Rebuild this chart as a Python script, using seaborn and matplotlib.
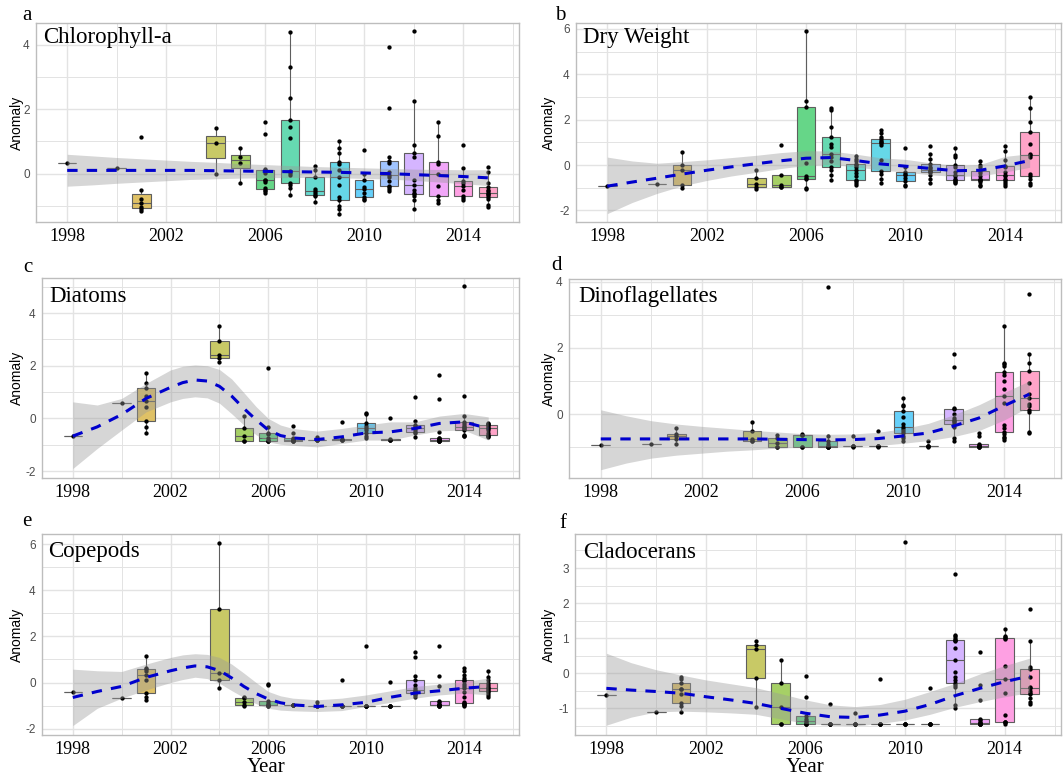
import matplotlib
matplotlib.use("Agg")
import matplotlib.pyplot as plt
from matplotlib.colors import to_rgb
import numpy as np
import pandas as pd
import seaborn as sns

# ---------------------------------------------------------------- data
YEARS = [1998, 2000, 2001, 2004, 2005, 2006, 2007, 2008, 2009, 2010,
         2011, 2012, 2013, 2014, 2015]
HUES = ["#F8766D", "#E58700", "#C99800", "#A3A500", "#6BB100", "#00BA38",
        "#00BF7D", "#00C0AF", "#00BCD8", "#00B0F6", "#619CFF", "#B983FF",
        "#E76BF3", "#FD61D1", "#FF67A4"]

CHLA = {
    1998: [0.33],
    2000: [0.16],
    2001: [-1.16, -1.09, -1.05, -0.90, -0.78, -0.50, 1.12],
    2004: [0.00, 0.95, 1.40],
    2005: [-0.30, 0.33, 0.52, 0.80],
    2006: [-0.60, -0.55, -0.50, -0.45, -0.26, -0.21, -0.20, 0.02, 0.12, 0.15, 1.22, 1.60],
    2007: [-0.67, -0.45, -0.35, -0.29, -0.03, 0.02, 0.07, 1.10, 1.44, 1.65, 2.36, 3.32, 4.39],
    2008: [-0.88, -0.70, -0.67, -0.60, -0.54, -0.47, -0.12, 0.12, 0.24],
    2009: [-1.24, -1.09, -0.99, -0.81, -0.72, -0.36, -0.10, 0.12, 0.31, 0.37, 0.65, 0.80, 1.01],
    2010: [-0.83, -0.78, -0.74, -0.60, -0.49, -0.41, -0.21, 0.00, 0.72],
    2011: [-0.54, -0.48, -0.41, -0.39, -0.23, -0.10, -0.05, 0.05, 0.33, 0.39, 0.52, 2.05, 3.93],
    2012: [-1.11, -0.83, -0.70, -0.62, -0.60, -0.52, -0.34, -0.21, 0.50, 0.65, 0.90, 2.25, 4.42],
    2013: [-0.90, -0.81, -0.69, -0.39, 0.00, 0.31, 0.37, 1.16, 1.60],
    2014: [-0.81, -0.75, -0.69, -0.52, -0.39, -0.30, -0.23, 0.16, 0.89],
    2015: [-1.05, -0.98, -0.80, -0.72, -0.66, -0.62, -0.59, -0.55, -0.52, -0.41, -0.29, 0.05, 0.21],
}

DRY_WEIGHT = {
    1998: [-0.94],
    2000: [-0.84],
    2001: [-1.01, -0.87, -0.23, 0.00, 0.57],
    2004: [-1.04, -0.97, -0.84, -0.57, -0.23],
    2005: [-0.98, -0.97, -0.90, -0.43, 0.90],
    2006: [-1.04, -1.00, -0.60, -0.55, -0.48, 0.09, 2.58, 2.82, 5.90],
    2007: [-0.68, -0.46, -0.20, -0.09, 0.20, 0.35, 0.47, 0.80, 0.94, 1.22, 1.66, 2.41, 2.53],
    2008: [-0.87, -0.79, -0.72, -0.65, -0.50, -0.35, -0.21, -0.10, 0.00, 0.04, 0.20, 0.28, 0.38],
    2009: [-0.79, -0.63, -0.40, -0.25, 0.21, 0.90, 0.97, 1.00, 1.05, 1.15, 1.23, 1.40, 1.53],
    2010: [-0.94, -0.87, -0.72, -0.55, -0.44, -0.38, -0.31, -0.09, 0.75],
    2011: [-0.79, -0.60, -0.45, -0.32, -0.30, -0.25, -0.23, -0.15, -0.09, 0.06, 0.28, 0.50, 0.84],
    2012: [-0.79, -0.75, -0.70, -0.68, -0.60, -0.50, -0.43, -0.30, -0.10, 0.01, 0.35, 0.43, 0.75],
    2013: [-0.94, -0.87, -0.75, -0.68, -0.66, -0.65, -0.63, -0.50, -0.35, -0.26, -0.10, 0.00, 0.16],
    2014: [-0.91, -0.85, -0.75, -0.68, -0.60, -0.50, -0.46, -0.30, -0.10, -0.03, 0.21, 0.60, 0.84],
    2015: [-0.90, -0.79, -0.60, -0.48, -0.38, 0.35, 0.46, 0.50, 0.94, 1.47, 1.89, 2.50, 3.00],
}

DIATOMS = {
    1998: [-0.67],
    2000: [0.57],
    2001: [-0.57, -0.32, -0.10, 0.43, 0.66, 0.85, 1.17, 1.33, 1.74],
    2004: [2.16, 2.28, 2.41, 2.94, 3.49],
    2005: [-0.85, -0.84, -0.67, -0.36, 0.09],
    2006: [-0.85, -0.84, -0.84, -0.80, -0.74, -0.60, -0.55, -0.34, 1.93],
    2007: [-0.85, -0.84, -0.84, -0.82, -0.80, -0.78, -0.75, -0.55, -0.29],
    2008: [-0.82, -0.81, -0.80, -0.80, -0.70],
    2009: [-0.81, -0.80, -0.80, -0.79, -0.15],
    2010: [-0.74, -0.65, -0.57, -0.45, -0.38, -0.28, -0.19, 0.15, 0.19],
    2011: [-0.81, -0.80, -0.80, -0.79, 0.00],
    2012: [-0.70, -0.57, -0.51, -0.45, -0.36, -0.30, -0.23, -0.08, 0.82],
    2013: [-0.86, -0.85, -0.84, -0.84, -0.83, -0.82, -0.80, -0.78, -0.76, -0.74, -0.51, 0.74, 1.65],
    2014: [-0.66, -0.65, -0.63, -0.44, -0.40, -0.36, -0.32, -0.28, -0.20, -0.13, 0.10, 0.86, 5.01],
    2015: [-0.70, -0.68, -0.66, -0.63, -0.55, -0.45, -0.38, -0.35, -0.30, -0.25, -0.22, -0.20, -0.18],
}

DINOFLAGELLATES = {
    1998: [-0.94],
    2000: [-0.90],
    2001: [-0.90, -0.74, -0.67, -0.60, -0.42],
    2004: [-0.82, -0.80, -0.74, -0.50, -0.24],
    2005: [-1.00, -1.00, -0.87, -0.72, -0.64],
    2006: [-1.00, -1.00, -0.62, -0.62, -0.60],
    2007: [-1.00, -1.00, -1.00, -0.98, -0.97, -0.90, -0.82, -0.67, 3.84],
    2008: [-0.98, -0.97, -0.97, -0.97, -0.67],
    2009: [-0.98, -0.97, -0.97, -0.97, -0.50],
    2010: [-0.80, -0.72, -0.65, -0.57, -0.52, -0.45, -0.40, -0.30, -0.10, 0.08, 0.25, 0.28, 0.50],
    2011: [-0.98, -0.97, -0.97, -0.97, -0.82],
    2012: [-0.82, -0.72, -0.40, -0.30, -0.25, -0.20, -0.17, -0.12, 0.00, 0.15, 0.18, 1.41, 1.81],
    2013: [-1.00, -1.00, -1.00, -0.97, -0.95, -0.92, -0.90, -0.67, -0.57],
    2014: [-0.77, -0.72, -0.70, -0.60, -0.54, -0.42, -0.32, 0.33, 0.54, 0.75, 1.00, 1.19,
           1.27, 1.44, 1.50, 1.54, 2.66],
    2015: [-0.57, -0.55, 0.06, 0.11, 0.25, 0.30, 0.48, 0.60, 0.93, 1.29, 1.54, 1.81, 3.62],
}

COPEPODS = {
    1998: [-0.42],
    2000: [-0.68],
    2001: [-0.77, -0.65, -0.46, 0.10, 0.33, 0.48, 0.58, 0.65, 1.16],
    2004: [-0.22, 0.09, 0.41, 3.20, 6.06],
    2005: [-1.00, -0.97, -0.86, -0.68, -0.65],
    2006: [-1.00, -1.00, -0.99, -0.99, -0.98, -0.90, -0.80, -0.10, -0.07],
    2007: [-0.99, -0.98, -0.97, -0.97, -0.96],
    2008: [-1.01, -1.00, -1.00, -1.00, -0.83],
    2009: [-1.01, -1.00, -1.00, -1.00, 0.09],
    2010: [-1.01, -1.00, -1.00, -1.00, 1.59],
    2011: [-1.01, -1.00, -1.00, -1.00, 0.04],
    2012: [-0.64, -0.54, -0.50, -0.46, -0.42, -0.38, -0.32, -0.25, -0.10, 0.09, 0.30, 1.09, 1.32],
    2013: [-1.01, -1.00, -1.00, -0.99, -0.99, -0.98, -0.97, -0.95, -0.85, -0.80, -0.17, 0.30, 1.57],
    2014: [-1.00, -0.98, -0.95, -0.93, -0.91, -0.83, -0.65, -0.40, -0.25, -0.15, -0.05, 0.05,
           0.09, 0.20, 0.33, 0.51, 0.62],
    2015: [-0.61, -0.54, -0.45, -0.39, -0.35, -0.30, -0.25, -0.20, -0.10, 0.00, 0.12, 0.22, 0.48],
}

CLADOCERANS = {
    1998: [-0.62],
    2000: [-1.11],
    2001: [-1.11, -0.93, -0.84, -0.60, -0.46, -0.45, -0.29, -0.17, -0.10],
    2004: [-0.97, -0.14, 0.70, 0.81, 0.92],
    2005: [-1.45, -1.45, -0.97, -0.29, 0.38],
    2006: [-1.45, -1.45, -1.45, -1.40, -1.35, -1.30, -1.22, -0.67, -0.07],
    2007: [-1.45, -1.45, -1.45, -1.45, -0.89],
    2008: [-1.45, -1.45, -1.45, -1.45, -1.14],
    2009: [-1.45, -1.45, -1.45, -1.45, -0.17],
    2010: [-1.45, -1.45, -1.45, -1.45, 3.73],
    2011: [-1.45, -1.45, -1.45, -1.45, -0.41],
    2012: [-1.00, -0.90, -0.40, -0.33, -0.28, -0.20, -0.12, 0.05, 0.38, 0.73, 0.93, 0.95,
           0.96, 1.00, 1.05, 1.10, 2.84],
    2013: [-1.46, -1.45, -1.45, -1.45, -1.44, -1.43, -1.42, -1.38, -1.33, -1.29, -0.76, -0.33, 0.62],
    2014: [-1.45, -1.40, -1.39, -1.38, -1.19, -0.57, -0.17, 0.22, 0.98, 1.00, 1.02, 1.05, 1.26],
    2015: [-0.89, -0.81, -0.70, -0.59, -0.55, -0.50, -0.43, -0.40, -0.10, 0.11, 0.17, 0.92, 1.84],
}

# loess trend (fit with 95% band)
SMOOTH_YEARS = list(range(1998, 2016))
PEAK_YEARS = [1998, 1999, 2000, 2001, 2002, 2002.5, 2003, 2003.5, 2004, 2004.5, 2005,
              2005.5, 2006, 2006.5, 2007, 2008, 2009, 2010, 2011, 2012, 2013, 2014, 2015]

CHLA_FIT = [0.10, 0.10, 0.10, 0.10, 0.10, 0.10, 0.09, 0.08, 0.07, 0.06, 0.05, 0.04, 0.02, 0.00, -0.03, -0.06, -0.09, -0.13]
CHLA_LO = [-0.39, -0.35, -0.30, -0.26, -0.22, -0.18, -0.16, -0.14, -0.13, -0.12, -0.12, -0.13, -0.15, -0.17, -0.21, -0.26, -0.31, -0.37]
CHLA_HI = [0.60, 0.55, 0.50, 0.46, 0.42, 0.38, 0.35, 0.31, 0.28, 0.25, 0.22, 0.20, 0.18, 0.16, 0.14, 0.13, 0.12, 0.12]

DRY_FIT = [-0.93, -0.75, -0.58, -0.40, -0.23, -0.08, 0.06, 0.19, 0.30, 0.33, 0.20, 0.05, -0.05, -0.15, -0.25, -0.23, -0.04, 0.20]
DRY_LO = [-2.14, -1.65, -1.25, -0.92, -0.68, -0.48, -0.32, -0.15, -0.02, 0.03, -0.08, -0.22, -0.31, -0.43, -0.50, -0.48, -0.31, -0.10]
DRY_HI = [0.35, 0.18, 0.08, 0.15, 0.23, 0.33, 0.43, 0.55, 0.63, 0.62, 0.48, 0.32, 0.25, 0.10, -0.01, 0.02, 0.38, 0.50]

DIAT_FIT = [-0.67, -0.32, 0.15, 0.76, 1.18, 1.36, 1.46, 1.42, 1.22, 0.85, 0.38,
            -0.05, -0.44, -0.65, -0.74, -0.80, -0.70, -0.55, -0.51, -0.38, -0.19, -0.13, -0.38]
DIAT_LO = [-1.90, -1.14, -0.44, 0.25, 0.63, 0.76, 0.82, 0.78, 0.58, 0.18, -0.25,
           -0.62, -0.89, -0.98, -1.02, -1.08, -0.95, -0.82, -0.82, -0.63, -0.47, -0.44, -0.82]
DIAT_HI = [0.63, 0.51, 0.76, 1.33, 1.84, 1.98, 2.03, 2.00, 1.86, 1.50, 0.98,
           0.45, 0.00, -0.25, -0.38, -0.48, -0.38, -0.25, -0.13, -0.13, 0.09, 0.19, 0.06]

DINO_FIT = [-0.75, -0.75, -0.75, -0.75, -0.75, -0.75, -0.75, -0.76, -0.77, -0.78, -0.77, -0.74, -0.66, -0.57, -0.36, -0.12, 0.25, 0.60]
DINO_LO = [-1.68, -1.48, -1.33, -1.24, -1.18, -1.12, -1.08, -1.03, -1.00, -0.99, -0.98, -0.95, -0.88, -0.80, -0.68, -0.50, -0.18, 0.22]
DINO_HI = [0.13, -0.05, -0.20, -0.30, -0.37, -0.43, -0.49, -0.54, -0.59, -0.61, -0.60, -0.55, -0.44, -0.28, -0.02, 0.28, 0.65, 1.00]

COPE_FIT = [-0.65, -0.39, -0.17, 0.22, 0.51, 0.63, 0.72, 0.68, 0.52, 0.20, -0.17,
            -0.48, -0.72, -0.88, -0.97, -1.04, -0.97, -0.86, -0.64, -0.46, -0.36, -0.25, -0.17]
COPE_LO = [-1.87, -1.12, -0.68, -0.32, 0.00, 0.13, 0.23, 0.17, -0.03, -0.35, -0.65,
           -0.92, -1.12, -1.20, -1.23, -1.26, -1.22, -1.04, -0.86, -0.68, -0.54, -0.46, -0.54]
COPE_HI = [0.58, 0.51, 0.48, 0.80, 1.09, 1.20, 1.25, 1.22, 1.09, 0.80, 0.41,
           0.00, -0.39, -0.58, -0.68, -0.75, -0.68, -0.54, -0.36, -0.17, -0.07, 0.04, 0.19]

CLAD_FIT = [-0.43, -0.48, -0.52, -0.57, -0.67, -0.76, -0.86, -1.00, -1.14, -1.24, -1.26, -1.19, -1.08, -0.89, -0.64, -0.43, -0.24, -0.08]
CLAD_LO = [-1.48, -1.25, -1.10, -1.08, -1.10, -1.13, -1.17, -1.30, -1.43, -1.48, -1.50, -1.43, -1.33, -1.17, -0.97, -0.81, -0.67, -0.55]
CLAD_HI = [0.57, 0.30, 0.10, -0.05, -0.19, -0.30, -0.41, -0.58, -0.76, -0.90, -0.95, -0.89, -0.74, -0.52, -0.29, -0.02, 0.22, 0.43]

X_TICKS = [1998, 2002, 2006, 2010, 2014]

# ---------------------------------------------------------------- style
sns.set_style("white")
SERIF = ["Liberation Serif", "DejaVu Serif"]
SANS = ["Liberation Sans", "DejaVu Sans"]
plt.rcParams["font.family"] = SANS

W, H = 1064, 777
fig = plt.figure(figsize=(W / 100, H / 100), dpi=100)

ALPHA = 0.6
fills = {}
for yr, hx in zip(YEARS, HUES):
    r, g, b = to_rgb(hx)
    fills[str(yr)] = (ALPHA * r + 1 - ALPHA, ALPHA * g + 1 - ALPHA, ALPHA * b + 1 - ALPHA)

# panel: letter, title, data, trend x, fit, lo, hi, major y, minor y, ylim,
#        axes box (px: left, top, right, bottom), title offset (px), letter pos (px)
panels = [
    ("a", "Chlorophyll-a", CHLA, SMOOTH_YEARS, CHLA_FIT, CHLA_LO, CHLA_HI,
     [0, 2, 4], [-1, 1, 3], (-1.50, 4.67), (36, 23, 519, 222), (7, 14), (27, 15)),
    ("b", "Dry Weight", DRY_WEIGHT, SMOOTH_YEARS, DRY_FIT, DRY_LO, DRY_HI,
     [-2, 0, 2, 4, 6], [-1, 1, 3, 5], (-2.51, 6.26), (576, 23, 1061, 222), (7, 15), (560, 15)),
    ("c", "Diatoms", DIATOMS, PEAK_YEARS, DIAT_FIT, DIAT_LO, DIAT_HI,
     [-2, 0, 2, 4], [-1, 1, 3, 5], (-2.26, 5.33), (42, 278, 519, 478), (7, 18), (28, 268)),
    ("d", "Dinoflagellates", DINOFLAGELLATES, SMOOTH_YEARS, DINO_FIT, DINO_LO, DINO_HI,
     [0, 2, 4], [-1, 1, 3], (-1.93, 4.08), (569, 279, 1061, 478), (9, 18), (556, 265)),
    ("e", "Copepods", COPEPODS, PEAK_YEARS, COPE_FIT, COPE_LO, COPE_HI,
     [-2, 0, 2, 4, 6], [-1, 1, 3, 5], (-2.28, 6.45), (42, 534, 519, 735), (6, 18), (27, 522)),
    ("f", "Cladocerans", CLADOCERANS, SMOOTH_YEARS, CLAD_FIT, CLAD_LO, CLAD_HI,
     [-1, 0, 1, 2, 3], [-1.5, -0.5, 0.5, 1.5, 2.5, 3.5], (-1.76, 3.97), (575, 534, 1061, 735), (8, 18), (563, 523)),
]

GRID = "#E3E3E3"
BORDER = "#BDBDBD"

for (letter, title, data, sx, fit, lo, hi, ymaj, ymin, ylim, box, toff, lpos) in panels:
    l, t, r, b = box
    ax = fig.add_axes([l / W, 1 - b / H, (r - l) / W, (b - t) / H])

    rows = [(yr, v) for yr in YEARS for v in data[yr]]
    df = pd.DataFrame(rows, columns=["year", "value"])
    df["yr"] = df["year"].astype(str)

    sns.boxplot(data=df, x="year", y="value", hue="yr", palette=fills,
                native_scale=True, width=0.75, dodge=False, showfliers=False,
                showcaps=False, saturation=1, linecolor="#5E5E5E", linewidth=0.8,
                legend=False, ax=ax)
    sns.stripplot(data=df, x="year", y="value", native_scale=True, jitter=False,
                  color="black", size=3.1, linewidth=0, ax=ax, zorder=3)

    ax.fill_between(sx, lo, hi, color="#999999", alpha=0.4, linewidth=0, zorder=4)
    ax.plot(sx, fit, color="#0000CD", lw=2.2, dashes=(3.4, 3.0), zorder=5)

    ax.set_xlim(1996.74, 2016.26)
    ax.set_ylim(*ylim)
    ax.set_xticks(X_TICKS)
    ax.set_xticks([2000, 2004, 2008, 2012, 2016], minor=True)
    ax.set_yticks(ymaj)
    ax.set_yticks(ymin, minor=True)
    ax.set_xticklabels([str(x) for x in X_TICKS], family=SERIF, fontsize=13,
                       color="black")
    ax.set_yticklabels([f"{v:g}" for v in ymaj], fontsize=8.5, color="#4D4D4D")
    ax.tick_params(axis="both", which="major", length=2.5, color=BORDER, width=0.6)
    ax.tick_params(axis="y", which="major", pad=2)
    ax.tick_params(axis="x", which="major", pad=1.5)
    ax.tick_params(axis="both", which="minor", length=0)
    ax.grid(True, which="major", color=GRID, lw=1.0, zorder=0)
    ax.grid(True, which="minor", color=GRID, lw=0.7, zorder=0)
    ax.set_axisbelow(True)
    for sp in ax.spines.values():
        sp.set_color(BORDER)
        sp.set_linewidth(1.0)
    ax.set_xlabel("")
    ax.set_ylabel("")

    # panel title inside the frame
    ax.annotate(title, xy=(0, 1), xycoords="axes fraction",
                xytext=(toff[0] * 0.72, -toff[1] * 0.72), textcoords="offset points",
                ha="left", va="center", family=SERIF, fontsize=16.5, color="black")

    # y-axis title
    yl_x = 17 if l < 300 else 549
    fig.text(yl_x / W, 1 - (t + b) / 2 / H, "Anomaly", rotation=90,
             ha="center", va="center", fontsize=10, family=SANS, color="black")

    # panel letter
    fig.text(lpos[0] / W, 1 - lpos[1] / H, letter, ha="center", va="center",
             family=SERIF, fontsize=15, color="black")

fig.text(266 / W, 1 - 768 / H, "Year", ha="center", va="center",
         family=SERIF, fontsize=15, color="black")
fig.text(805 / W, 1 - 768 / H, "Year", ha="center", va="center",
         family=SERIF, fontsize=15, color="black")

fig.savefig("out.png", dpi=100, facecolor="white")
